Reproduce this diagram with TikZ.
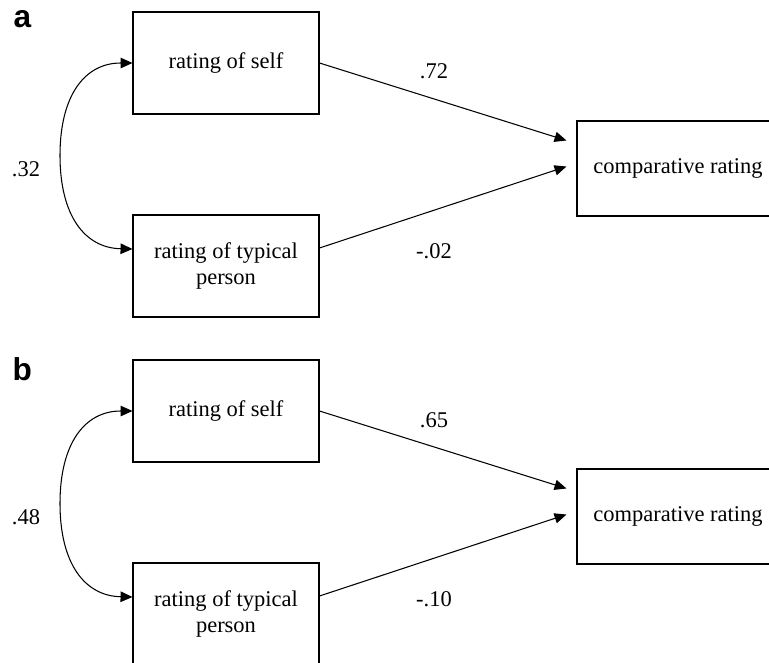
\documentclass[tikz,border=0pt]{standalone}
\usepackage{fontspec}
\setmainfont{Liberation Serif}
\setsansfont{Liberation Sans}
\usepackage{tikz}
\usetikzlibrary{calc,arrows.meta}

\begin{document}
\begin{tikzpicture}[x=0.02cm,y=-0.02cm,line width=0.6pt,
        box/.style={draw,rectangle,align=center,font=\fontsize{12.8}{14.7}\selectfont,
            minimum width=3.72cm,minimum height=2.04cm,inner sep=0pt},
        num/.style={font=\fontsize{12.8}{14.7}\selectfont,inner sep=0pt},
        panel/.style={font=\sffamily\bfseries\fontsize{18}{20}\selectfont,inner sep=0pt,anchor=base west},
        tip/.style={-{Triangle[length=6.8pt,width=5.8pt]}},
        both/.style={{Triangle[length=6.8pt,width=6pt]}-{Triangle[length=6.8pt,width=6pt]}}]
        \clip (0,0) rectangle (769,663);

        % panel a
        \node[panel] (pa) at (13,27) {a};
        \node[box] (11) at (226,63) {rating of self};
        \node[box] (12) at (226,266) {rating of typical\\person};
        \node[box,minimum width=4.04cm,minimum height=1.9cm] (13) at (678,168.5) {comparative rating};

        \coordinate (t11) at ($(13.west)+(-10,-28)$);
        \coordinate (t12) at ($(13.west)+(-10,-2)$);
        \coordinate (s12) at ($(12.east)+(0,-18)$);
        \coordinate (c12) at ($(12.west)+(0,-17)$);

        \draw[tip] (11.east) -- (t11);
        \draw[tip] (s12) -- (t12);
        \draw[both] (11.west) .. controls (85,63) and (60,95) .. (60,155.5)
            .. controls (60,216) and (85,248) .. (c12);

        \node[num] (r11) at (26,169) {.32};
        \node[num] (r12) at (434,71) {.72};
        \node[num] (r13) at (434,251) {-.02};

        % panel b
        \node[panel] (pb) at (12,380) {b};
        \node[box] (21) at ($(11)+(0,348)$) {rating of self};
        \node[box] (22) at ($(12)+(0,348)$) {rating of typical\\person};
        \node[box,minimum width=4.04cm,minimum height=1.9cm] (23) at ($(13)+(0,348)$) {comparative rating};

        \coordinate (t21) at ($(23.west)+(-10,-28)$);
        \coordinate (t22) at ($(23.west)+(-10,-2)$);
        \coordinate (s22) at ($(22.east)+(0,-18)$);
        \coordinate (c22) at ($(22.west)+(0,-17)$);

        \draw[tip] (21.east) -- (t21);
        \draw[tip] (s22) -- (t22);
        \draw[both] (21.west) .. controls (85,411) and (60,443) .. (60,503.5)
            .. controls (60,564) and (85,596) .. (c22);

        \node[num] (r21) at (26,517) {.48};
        \node[num] (r22) at (434,420) {.65};
        \node[num] (r23) at (434,599) {-.10};
\end{tikzpicture}
\end{document}
